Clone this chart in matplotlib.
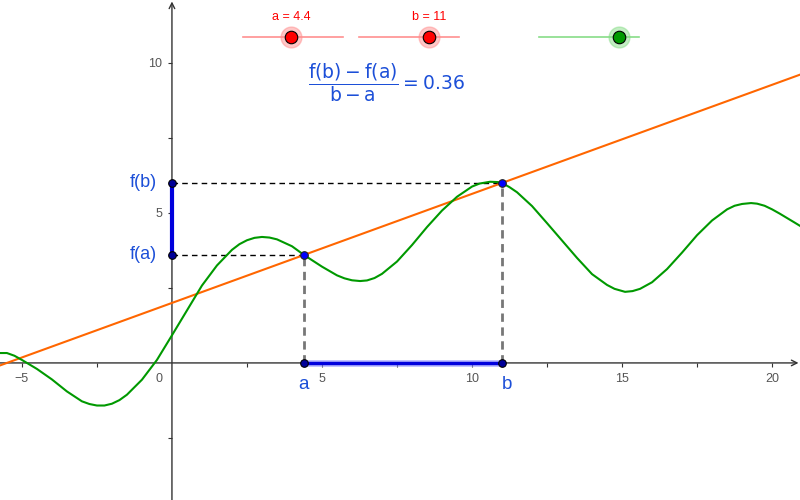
import matplotlib.pyplot as plt

# values
a = 4.4
b = 11
fa = 3.6
fb = 6.0

curve_x = [-5.73, -5.5, -5.25, -5.0, -4.75, -4.5, -4.0, -3.5, -3.0, -2.75, -2.5, -2.25,
           -2.0, -1.75, -1.5, -1.0, -0.5, 0.0, 0.5, 1.0, 1.5, 2.0, 2.25, 2.5, 2.75, 3.0,
           3.25, 3.5, 4.0, 4.4, 5.0, 5.5, 5.75, 6.0, 6.27, 6.5, 6.75, 7.0, 7.5, 8.0, 8.5,
           9.0, 9.5, 10.0, 10.25, 10.6, 10.85, 11.0, 11.25, 11.5, 12.0, 12.5, 13.0, 13.5,
           14.0, 14.5, 14.75, 15.1, 15.35, 15.6, 16.0, 16.5, 17.0, 17.5, 18.0, 18.5,
           18.75, 19.0, 19.3, 19.5, 19.75, 20.0, 20.25, 20.5, 20.75, 20.93]
curve_y = [0.33, 0.33, 0.24, 0.1, -0.05, -0.2, -0.55, -0.95, -1.28, -1.37, -1.42, -1.42,
           -1.36, -1.24, -1.06, -0.56, 0.1, 0.92, 1.75, 2.58, 3.25, 3.77, 3.96, 4.09, 4.17, 4.2,
           4.18, 4.12, 3.89, 3.6, 3.21, 2.92, 2.82, 2.755, 2.73, 2.75, 2.83, 2.97, 3.38, 3.93, 4.53,
           5.08, 5.54, 5.88, 5.98, 6.04, 6.03, 6.0, 5.86, 5.69, 5.23, 4.66, 4.08, 3.5,
           2.96, 2.6, 2.47, 2.37, 2.395, 2.47, 2.69, 3.13, 3.68, 4.26, 4.75, 5.12,
           5.24, 5.3, 5.33, 5.31, 5.24, 5.12, 4.98, 4.83, 4.68, 4.57]

xmin, xmax = -5.73, 20.93
ymin, ymax = -4.57, 12.1

blue_txt = '#1c4fd8'
axis_col = '#333333'

plt.rcParams['font.family'] = ['Liberation Sans', 'DejaVu Sans']
plt.rcParams['mathtext.fontset'] = 'dejavusans'

fig = plt.figure(figsize=(8, 5), dpi=100)
ax = fig.add_axes([0, 0, 1, 1])
ax.set_xlim(xmin, xmax)
ax.set_ylim(ymin, ymax)

# axes through the origin
for s in ['top', 'right', 'left', 'bottom']:
    ax.spines[s].set_visible(False)
ax.spines['left'].set_position(('data', 0))
ax.spines['bottom'].set_position(('data', 0))
ax.annotate('', xy=(xmax - 0.05, 0), xytext=(xmin, 0),
            arrowprops=dict(arrowstyle='->', color=axis_col, lw=1, shrinkA=0, shrinkB=0))
ax.annotate('', xy=(0, ymax - 0.05), xytext=(0, ymin),
            arrowprops=dict(arrowstyle='->', color=axis_col, lw=1, shrinkA=0, shrinkB=0))

ax.set_xticks([-5, 5, 10, 15, 20])
ax.set_xticks([-2.5, 2.5, 7.5, 12.5, 17.5], minor=True)
ax.set_yticks([5, 10])
ax.set_yticks([-2.5, 2.5, 7.5], minor=True)
ax.tick_params(which='both', direction='out', length=3, width=0.8, color=axis_col,
               labelsize=9, labelcolor='#555555', pad=4)
ax.text(-0.3, -0.35, '0', ha='right', va='top', fontsize=9, color='#555555')

# secant line and curve
slope = (fb - fa) / (b - a)
ax.plot([xmin, xmax], [fa + slope * (xmin - a), fa + slope * (xmax - a)],
        color='#ff6600', lw=1.5, zorder=3)
ax.plot(curve_x, curve_y, color='#009900', lw=1.5, zorder=3)

# guide lines
ax.plot([0, a], [fa, fa], color='black', lw=1, ls=(0, (4, 3)), zorder=2)
ax.plot([0, b], [fb, fb], color='black', lw=1, ls=(0, (4, 3)), zorder=2)
ax.plot([a, a], [0, fa], color='#777777', lw=2, ls=(0, (3, 2)), zorder=2)
ax.plot([b, b], [0, fb], color='#777777', lw=2, ls=(0, (3, 2)), zorder=2)

# blue segments
ax.plot([0, 0], [fa, fb], color='#0000dd', lw=3, zorder=4, solid_capstyle='butt')
ax.plot([a, b], [0, 0], color='#9999ff', lw=5, alpha=0.6, zorder=4)
ax.plot([a, b], [0, 0], color='#0000dd', lw=2.5, zorder=4, solid_capstyle='butt')

ax.scatter([0, 0, a, b], [fa, fb, 0, 0], s=30, color='#000099', edgecolor='black', lw=0.8, zorder=6)
ax.scatter([a, b], [fa, fb], s=30, color='#0000ff', edgecolor='#222222', lw=0.8, zorder=6)

ax.text(-0.5, fb, 'f(b)', ha='right', va='center', fontsize=13, color=blue_txt)
ax.text(-0.5, fa, 'f(a)', ha='right', va='center', fontsize=13, color=blue_txt)
ax.text(a, -0.45, 'a', ha='center', va='top', fontsize=13.5, color=blue_txt)
ax.text(b + 0.15, -0.45, 'b', ha='center', va='top', fontsize=13.5, color=blue_txt)

# sliders
def slider(x0, x1, xd, col, dot, label=None):
    fig.add_artist(plt.Line2D([x0 / 800, x1 / 800], [1 - 37 / 500] * 2, color=col, lw=1.2,
                              transform=fig.transFigure))
    fig.add_artist(plt.Line2D([xd / 800], [1 - 37 / 500], marker='o', ms=15, color=col,
                              alpha=0.5, ls='none', transform=fig.transFigure))
    fig.add_artist(plt.Line2D([xd / 800], [1 - 37 / 500], marker='o', ms=9, color=dot,
                              mec='black', mew=0.8, ls='none', transform=fig.transFigure))
    if label:
        fig.text(xd / 800, 1 - 17 / 500, label, ha='center', va='center', fontsize=9, color='#ff0000')

slider(243, 343, 291, '#ff9090', '#ff0000', 'a = 4.4')
slider(359, 459, 429, '#ff9090', '#ff0000', 'b = 11')
slider(539, 639, 619, '#88dd88', '#009900')

ax.text(0.483, 0.835,
        r'$\dfrac{\mathsf{f(b)} - \mathsf{f(a)}}{\mathsf{b} - \mathsf{a}} = \mathsf{0.36}$',
        transform=ax.transAxes, ha='center', va='center', fontsize=13.5, color=blue_txt)

fig.savefig('out.png')
